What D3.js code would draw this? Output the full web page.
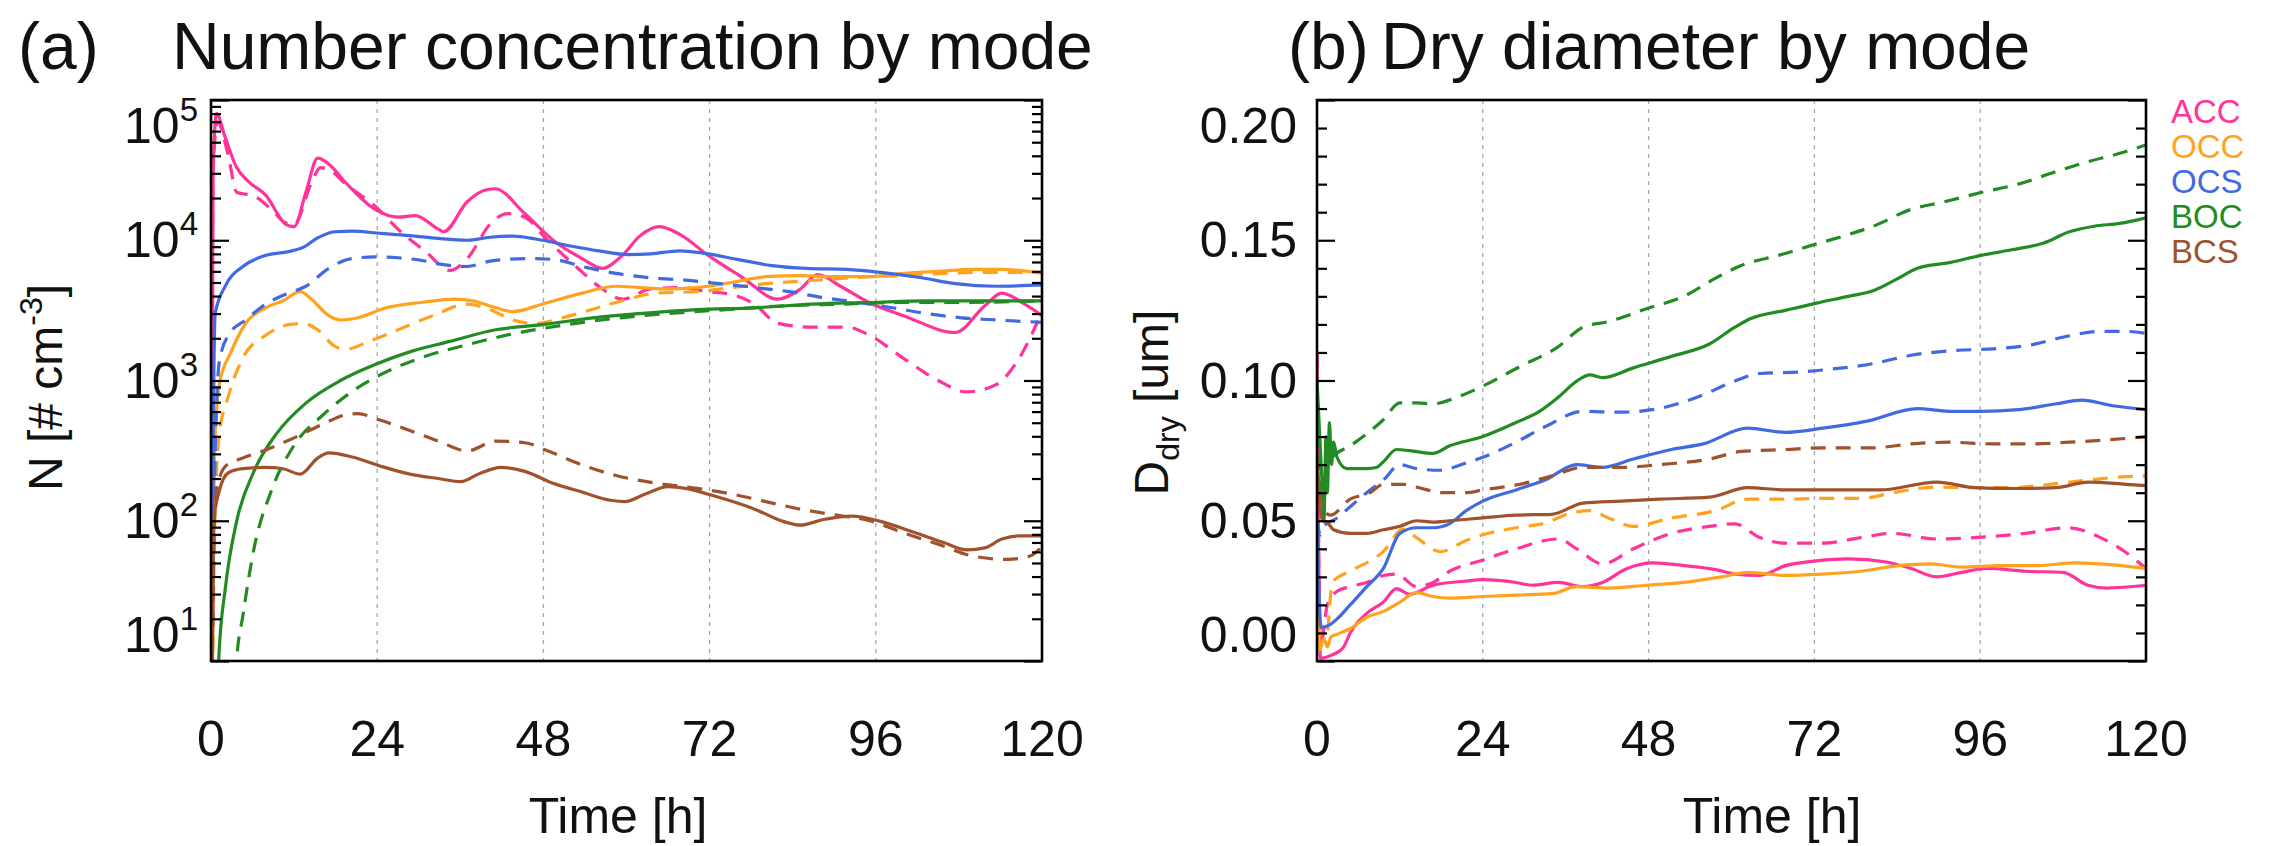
<!DOCTYPE html>
<html>
<head>
<meta charset="utf-8">
<script src="https://cdn.jsdelivr.net/npm/d3@7"></script>
<style>
  body { margin: 0; background: #fff; }
  text { font-family: "Liberation Sans", Arial, Helvetica, sans-serif; fill: #111; }
</style>
</head>
<body>
<svg id="chart" width="2270" height="846"></svg>
<script>
// modes, colours and tick values
var modes = ["ACC", "OCC", "OCS", "BOC", "BCS"];
var modeColors = ["#ff3399", "#ffa31f", "#4169e1", "#228b22", "#a0522d"];
var timeTicks = [0, 24, 48, 72, 96, 120];
var gridHours = [24, 48, 72, 96];
var nDecades = [1e1, 1e2, 1e3, 1e4, 1e5];
var dMajor = [0, 0.05, 0.10, 0.15, 0.20];

// (a) number concentration [# cm-3], pairs of [hour, value]
var accSolidN = [[0,1],[0.3,3e4],[0.8,8e4],[2,5.5e4],[3.7,3.3e4],[5.5,2.6e4],[7.9,2.1e4],[10.8,1.3e4],[12,1.25e4],[13.7,2.2e4],[15.4,3.85e4],[17,3.5e4],[19.5,2.56e4],[23.7,1.66e4],[27,1.46e4],[29.5,1.5e4],[32.8,1.2e4],[33.6,1.15e4],[37,1.88e4],[39.4,2.26e4],[41,2.33e4],[45.3,1.55e4],[49.4,1.0e4],[53.6,7.4e3],[56.5,6.3e3],[59.4,7.8e3],[61.9,1.07e4],[64.8,1.25e4],[67.7,1.1e4],[71.8,7.8e3],[76.8,5.4e3],[81.8,3.8e3],[85,4.45e3],[87.6,5.7e3],[90.9,4.7e3],[95,3.6e3],[100,2.9e3],[107.5,2.2e3],[111.7,3.4e3],[114.2,4.2e3],[117.5,3.5e3],[120,2.9e3]];
var accDashN = [[0,1],[0.3,3e4],[0.9,7e4],[2.5,4e4],[3.7,2.2e4],[6.2,2.07e4],[8.7,1.66e4],[10.8,1.33e4],[12,1.3e4],[14.5,2.56e4],[15.8,3.3e4],[17,3.2e4],[19.5,2.5e4],[23.7,1.75e4],[27,1.2e4],[31,8.3e3],[34.5,6.1e3],[37,7.4e3],[40.3,1.3e4],[42.8,1.55e4],[45.3,1.46e4],[48.6,1e4],[52.7,6.5e3],[56.5,4.5e3],[59.4,3.8e3],[63.5,4.5e3],[67.7,4.6e3],[71.8,4.3e3],[75.2,4.1e3],[78.5,3.5e3],[81.8,2.56e3],[86.8,2.4e3],[91.8,2.4e3],[95.1,2.1e3],[100,1.44e3],[105,1e3],[109.1,830],[113.3,930],[116.7,1.44e3],[120,3.1e3]];
var occSolidN = [[0,1],[0.5,300],[1.2,940],[2.9,1.6e3],[5,2.55e3],[7.9,3.3e3],[10.4,3.7e3],[12.9,4.3e3],[14.5,3.8e3],[17,2.9e3],[18.7,2.7e3],[21.2,2.8e3],[25.3,3.3e3],[30.3,3.6e3],[35.3,3.8e3],[37.8,3.7e3],[40.3,3.4e3],[43.6,3.1e3],[47.8,3.5e3],[53.6,4.2e3],[58.5,4.7e3],[61.9,4.6e3],[65.2,4.5e3],[70.2,4.6e3],[75.2,5e3],[80.1,5.5e3],[85.1,5.6e3],[90.1,5.5e3],[95.1,5.5e3],[100,5.8e3],[105,6e3],[110,6.2e3],[114.2,6.2e3],[120,5.8e3]];
var occDashN = [[0,1],[0.6,119],[1.2,417],[2.5,770],[4.6,1.45e3],[7.9,2.1e3],[11.2,2.5e3],[13.3,2.55e3],[15.4,2.3e3],[17.9,1.75e3],[19.5,1.67e3],[22.8,1.9e3],[27,2.3e3],[32,2.9e3],[37,3.5e3],[40.3,3.2e3],[43.6,2.7e3],[46.9,2.55e3],[51.9,2.9e3],[58.5,3.6e3],[64.4,4.2e3],[70.2,4.3e3],[75.2,4.6e3],[80.1,4.9e3],[85.1,5.1e3],[90.1,5.3e3],[95.1,5.5e3],[100,5.6e3],[105.8,5.8e3],[111.6,5.9e3],[120,5.9e3]];
var ocsSolidN = [[0,1],[0.3,300],[0.6,3e3],[2.1,4.75e3],[4.6,6.5e3],[7.9,7.8e3],[11.2,8.3e3],[13.3,8.9e3],[15.4,1.04e4],[17.9,1.15e4],[20.4,1.16e4],[24.5,1.12e4],[28.7,1.08e4],[32.8,1.03e4],[37,1e4],[40.3,1.05e4],[43.6,1.07e4],[46.9,1.02e4],[51.9,9.1e3],[56,8.4e3],[60.2,7.9e3],[63.5,8e3],[67.7,8.4e3],[71.8,8e3],[76,7.3e3],[81,6.6e3],[86,6.3e3],[91.8,6.2e3],[96.7,5.9e3],[102.6,5.4e3],[107.5,4.9e3],[113.4,4.7e3],[120,4.8e3]];
var ocsDashN = [[0,1],[0.4,100],[1.2,1.36e3],[2.5,2.1e3],[5,2.7e3],[7.9,3.5e3],[11.2,4.2e3],[13.7,4.7e3],[17,6.3e3],[20.3,7.4e3],[23.7,7.6e3],[27,7.5e3],[30.3,7.2e3],[33.6,6.7e3],[37,6.5e3],[40.3,7.1e3],[45.3,7.4e3],[49.4,7.3e3],[53.6,6.5e3],[58.5,5.8e3],[63.5,5.4e3],[68.5,5.2e3],[73.5,4.9e3],[78.5,4.6e3],[83.5,4.3e3],[88.4,3.9e3],[93.4,3.6e3],[98.4,3.3e3],[103.4,3e3],[108.4,2.8e3],[113.4,2.7e3],[120,2.6e3]];
var bocSolidN = [[0.5,1],[1.1,10],[2.1,34],[3.7,99],[6.2,225],[9.5,420],[13.7,690],[18.7,1e3],[23.7,1.3e3],[28.7,1.6e3],[34.5,1.9e3],[41.1,2.3e3],[47.8,2.5e3],[55.2,2.8e3],[61.9,3e3],[70.2,3.2e3],[78.5,3.3e3],[86.8,3.5e3],[95.1,3.6e3],[103.4,3.7e3],[111.6,3.7e3],[120,3.7e3]];
var bocDashN = [[3,1],[3.7,10],[4.6,21],[6.2,63],[8.7,163],[12,345],[16.2,570],[20.3,830],[24.5,1.1e3],[30.3,1.45e3],[37,1.8e3],[43.6,2.15e3],[50.2,2.45e3],[57.7,2.75e3],[66,3e3],[74.3,3.2e3],[82.6,3.4e3],[90.9,3.5e3],[99.2,3.6e3],[107.5,3.6e3],[120,3.7e3]];
var bcsSolidN = [[0,1],[0.4,100],[1.2,163],[2.5,220],[4.6,235],[7.9,240],[10.4,235],[12.9,215],[15.4,280],[17,305],[20.4,285],[24.5,245],[28.7,215],[32.8,200],[36.1,190],[38.6,215],[41.9,240],[45.3,225],[49.4,185],[53.6,160],[57.7,140],[59.8,137],[62.7,155],[66,175],[68.5,170],[72.7,150],[78.5,121],[82.6,99],[85.1,93],[88.4,102],[92.6,108],[96.7,99],[101.7,82],[105.8,70],[109.2,62],[111.7,64],[114.2,74],[116.7,78],[120,78]];
var bcsDashN = [[0,1],[0.5,100],[0.8,163],[2.1,245],[4.6,280],[7.9,320],[12,390],[16.2,490],[19.5,570],[21.2,580],[24.5,520],[28.7,440],[32.8,370],[37,315],[41.1,370],[45.3,360],[48.6,315],[53.6,250],[58.5,210],[64.4,185],[70.2,170],[75.2,155],[80.1,137],[85.1,121],[90.1,110],[95.1,100],[100,82],[105,68],[110,56],[115,53],[118.3,56],[120,66]];

// (b) dry diameter [um], pairs of [hour, value]
var accSolidD = [[0,0.11],[0.5,0.001],[2,0.002],[3.8,0.0048],[4.8,0.010],[7.2,0.017],[9.6,0.021],[11.5,0.0258],[13.4,0.0238],[16.8,0.027],[21.6,0.0285],[24,0.029],[28.8,0.028],[31.2,0.027],[34.9,0.028],[38.5,0.0265],[41.3,0.028],[44.9,0.033],[48.6,0.035],[53.1,0.034],[57.7,0.0326],[60.5,0.031],[64.1,0.0305],[67.8,0.034],[72.3,0.0357],[76.9,0.0364],[82.4,0.0353],[86,0.033],[89.7,0.030],[93.3,0.0316],[97,0.033],[102.5,0.032],[108,0.0316],[111.6,0.027],[114.3,0.026],[120,0.027]];
var accDashD = [[0,0.11],[0.5,0.005],[1.5,0.02],[3,0.025],[4.8,0.0265],[7.2,0.028],[9.6,0.0305],[11.5,0.031],[14.4,0.0265],[16.8,0.028],[19.2,0.032],[24,0.036],[28.8,0.040],[34.9,0.0435],[37.6,0.040],[41.3,0.0346],[45.8,0.040],[51.3,0.0455],[56.8,0.048],[60.5,0.0489],[64.1,0.044],[67.8,0.042],[73.2,0.042],[78.7,0.044],[83.3,0.0455],[89.7,0.0435],[95.2,0.044],[102.5,0.0455],[108.8,0.0475],[113.4,0.044],[117.1,0.0387],[120,0.033]];
var occSolidD = [[0,0.05],[0.4,0.004],[1,0.008],[1.5,0.005],[2,0.0085],[2.9,0.0095],[4.8,0.0115],[7.2,0.0156],[9.6,0.0177],[12,0.021],[14.4,0.0244],[16.8,0.023],[19.2,0.0224],[24,0.023],[28.8,0.0235],[34,0.024],[37.6,0.0265],[42.2,0.026],[47.7,0.027],[53.1,0.028],[58.6,0.030],[62.3,0.0316],[67.8,0.0305],[73.2,0.031],[78.7,0.032],[84.2,0.034],[88.8,0.0346],[93.3,0.0335],[98.8,0.034],[104.3,0.034],[109.8,0.035],[113.4,0.0346],[120,0.033]];
var occDashD = [[0,0.05],[0.5,0.01],[1.4,0.009],[2.2,0.028],[4.8,0.032],[9.6,0.039],[12.5,0.047],[14.4,0.044],[17.8,0.039],[21.6,0.043],[24,0.045],[28.8,0.0475],[33.6,0.0496],[35.8,0.052],[39.5,0.0536],[42.2,0.051],[45.8,0.048],[51.3,0.051],[57.7,0.0536],[62.3,0.0577],[67.8,0.0577],[73.2,0.058],[78.7,0.058],[84.2,0.0604],[89.7,0.062],[95.2,0.0618],[100.6,0.0618],[106.1,0.063],[111.6,0.0645],[116.2,0.0656],[120,0.066]];
var ocsSolidD = [[0,0.05],[0.6,0.012],[1.9,0.013],[2.9,0.015],[4.8,0.020],[7.2,0.0265],[9.6,0.033],[12,0.0455],[14.4,0.0475],[16.8,0.0475],[19.2,0.049],[21.6,0.0536],[24,0.057],[28.8,0.061],[33,0.0645],[37.6,0.070],[41.3,0.069],[45.8,0.072],[51.3,0.0754],[55.9,0.0774],[62.3,0.083],[67.8,0.0815],[73.2,0.083],[79.6,0.0855],[86.9,0.090],[91.5,0.089],[96.1,0.089],[101.5,0.0896],[107,0.0917],[110.7,0.093],[115.2,0.091],[120,0.0896]];
var ocsDashD = [[0,0.05],[0.5,0.045],[1,0.048],[2.9,0.051],[4.8,0.055],[7.2,0.060],[9.6,0.0645],[12,0.070],[14.4,0.0686],[17.8,0.068],[21.6,0.0706],[24,0.0726],[28.8,0.078],[33,0.0835],[38.5,0.089],[44,0.0887],[49.5,0.090],[55,0.094],[60.5,0.0998],[64.1,0.1025],[69.6,0.103],[74.2,0.104],[80.5,0.106],[86,0.109],[92.4,0.1107],[97.9,0.1113],[103.4,0.1127],[107.9,0.1154],[113.4,0.1175],[117.1,0.1175],[120,0.1168]];
var bocSolidD = [[0,0.10],[0.8,0.06],[1.0,0.05],[1.3,0.08],[1.5,0.06],[1.8,0.085],[2.1,0.07],[2.4,0.078],[2.9,0.0726],[4.3,0.0686],[7.2,0.0686],[8.6,0.069],[9.6,0.071],[11.5,0.0754],[13.4,0.075],[16.8,0.074],[19.2,0.0767],[24,0.080],[28.8,0.085],[32.2,0.089],[34.9,0.094],[37.6,0.0998],[39.5,0.102],[41.3,0.101],[45.8,0.1045],[51.3,0.1086],[56.8,0.113],[60.5,0.119],[62.7,0.122],[67.8,0.125],[72.3,0.1276],[76.9,0.130],[80.5,0.132],[84.2,0.1365],[86.9,0.140],[91.5,0.142],[96.1,0.1446],[100.6,0.1466],[105.2,0.149],[108.9,0.153],[112.5,0.155],[116.2,0.156],[120,0.158]];
var bocDashD = [[0,0.10],[0.8,0.06],[1.5,0.07],[2.2,0.0726],[4.8,0.0767],[9.6,0.086],[12,0.092],[14.4,0.092],[16.8,0.0917],[20.2,0.094],[24,0.098],[29.4,0.105],[34.9,0.112],[38.5,0.119],[42.2,0.121],[47.7,0.1256],[53.1,0.130],[57.7,0.1365],[61.4,0.141],[66.8,0.1446],[72.3,0.1487],[76.9,0.152],[80.5,0.155],[86,0.161],[90.6,0.1636],[96.1,0.167],[101.5,0.170],[107,0.1745],[111.6,0.178],[116.2,0.181],[120,0.184]];
var bcsSolidD = [[0,0.07],[0.8,0.05],[1.4,0.0496],[2.4,0.0468],[4.8,0.0455],[7.2,0.0455],[9.6,0.0468],[12,0.048],[14.4,0.050],[16.8,0.0495],[19.2,0.050],[24,0.051],[28.8,0.052],[34,0.0523],[38.5,0.0563],[44,0.057],[49.5,0.0577],[56.8,0.0584],[62.3,0.0618],[67.8,0.061],[75.1,0.061],[81.5,0.061],[89.7,0.0638],[95.2,0.0618],[100.6,0.0615],[107,0.0618],[111.6,0.0638],[117.1,0.063],[120,0.0625]];
var bcsDashD = [[0,0.07],[0.8,0.055],[1.9,0.052],[4.8,0.0577],[7.7,0.060],[9.6,0.063],[12.5,0.063],[14.4,0.062],[18.2,0.060],[21.6,0.060],[24,0.061],[29.4,0.063],[34,0.066],[38.5,0.069],[44,0.069],[49.5,0.070],[56.8,0.072],[61.4,0.0747],[67.8,0.0754],[73.2,0.076],[80.5,0.076],[86,0.0774],[91.5,0.078],[97.9,0.0774],[103.4,0.0774],[108.9,0.078],[114.3,0.0788],[120,0.080]];

var seriesA = [
    {mode: 0, dashed: false, data: accSolidN}, {mode: 0, dashed: true, data: accDashN},
    {mode: 1, dashed: false, data: occSolidN}, {mode: 1, dashed: true, data: occDashN},
    {mode: 2, dashed: false, data: ocsSolidN}, {mode: 2, dashed: true, data: ocsDashN},
    {mode: 3, dashed: false, data: bocSolidN}, {mode: 3, dashed: true, data: bocDashN},
    {mode: 4, dashed: false, data: bcsSolidN}, {mode: 4, dashed: true, data: bcsDashN}
];
var seriesB = [
    {mode: 0, dashed: false, data: accSolidD}, {mode: 0, dashed: true, data: accDashD},
    {mode: 1, dashed: false, data: occSolidD}, {mode: 1, dashed: true, data: occDashD},
    {mode: 2, dashed: false, data: ocsSolidD}, {mode: 2, dashed: true, data: ocsDashD},
    {mode: 3, dashed: false, data: bocSolidD}, {mode: 3, dashed: true, data: bocDashD},
    {mode: 4, dashed: false, data: bcsSolidD}, {mode: 4, dashed: true, data: bcsDashD}
];

var svg = d3.select("#chart");
svg.append("rect").attr("width", 2270).attr("height", 846).attr("fill", "#fff");

var panelA = {left: 211, right: 1042, top: 100, bottom: 661},
    panelB = {left: 1317, right: 2146, top: 100, bottom: 661};

var xA = d3.scaleLinear().domain([0, 120]).range([panelA.left, panelA.right]),
    yA = d3.scaleLog().domain([10, 1e5]).range([panelA.bottom, panelA.top]),
    xB = d3.scaleLinear().domain([0, 120]).range([panelB.left, panelB.right]),
    yB = d3.scaleLinear().domain([0, 0.2]).range([panelB.bottom, panelB.top]);

var defs = svg.append("defs");
[["clipA", panelA], ["clipB", panelB]].forEach(function(c){
    defs.append("clipPath").attr("id", c[0]).append("rect")
        .attr("x", c[1].left).attr("y", c[1].top)
        .attr("width", c[1].right - c[1].left).attr("height", c[1].bottom - c[1].top);
});

function drawPanel(p, x, y, series, clipId, minorTicks, majorTicks){
    var g = svg.append("g");

    // dashed vertical grid
    g.selectAll(".grid").data(gridHours).enter().append("line")
        .attr("x1", function(d){ return x(d); }).attr("x2", function(d){ return x(d); })
        .attr("y1", p.top).attr("y2", p.bottom)
        .attr("stroke", "#a8a8a8").attr("stroke-width", 1.3)
        .attr("stroke-dasharray", "4,5");

    var line = d3.line()
        .x(function(d){ return x(d[0]); })
        .y(function(d){ return y(d[1]); })
        .curve(d3.curveMonotoneX);

    series.forEach(function(s){
        g.append("path")
            .attr("d", line(s.data))
            .attr("fill", "none")
            .attr("stroke", modeColors[s.mode])
            .attr("stroke-width", 3.2)
            .attr("stroke-dasharray", s.dashed ? "15,10" : null)
            .attr("clip-path", "url(#" + clipId + ")");
    });

    // ticks on both sides pointing inward
    var tickSets = [[minorTicks, 10], [majorTicks, 18]];
    tickSets.forEach(function(t){
        g.append("g").attr("transform", "translate(" + p.left + ",0)")
            .call(d3.axisLeft(y).tickValues(t[0]).tickSize(-t[1]).tickFormat(""))
            .call(function(a){ a.select(".domain").remove(); a.selectAll("line").attr("stroke", "#000").attr("stroke-width", 2.2); });
        g.append("g").attr("transform", "translate(" + p.right + ",0)")
            .call(d3.axisRight(y).tickValues(t[0]).tickSize(-t[1]).tickFormat(""))
            .call(function(a){ a.select(".domain").remove(); a.selectAll("line").attr("stroke", "#000").attr("stroke-width", 2.2); });
    });

    g.append("rect")
        .attr("x", p.left).attr("y", p.top)
        .attr("width", p.right - p.left).attr("height", p.bottom - p.top)
        .attr("fill", "none").attr("stroke", "#000").attr("stroke-width", 2.6);

    // x tick labels
    g.selectAll(".xlab").data(timeTicks).enter().append("text")
        .attr("x", function(d){ return x(d); })
        .attr("y", 756)
        .attr("text-anchor", "middle")
        .attr("font-size", 50)
        .text(function(d){ return d; });

    return g;
}

// extreme labels sit a little inside the frame, as in the original
function labelShift(i, n){
    if(i === 0) return -26;
    if(i === n - 1) return 26;
    return 0;
}

var minorA = yA.ticks().filter(function(d){ return nDecades.indexOf(d) < 0; });
var gA = drawPanel(panelA, xA, yA, seriesA, "clipA", minorA, nDecades);

gA.selectAll(".ylab").data(nDecades).enter().append("text")
    .attr("x", panelA.left - 13)
    .attr("y", function(d, i){ return yA(d) + labelShift(i, nDecades.length) + 17; })
    .attr("text-anchor", "end")
    .attr("font-size", 50)
    .each(function(d){
        var t = d3.select(this);
        t.text("10");
        t.append("tspan").attr("dy", -22).attr("font-size", 33).text(Math.round(Math.log10(d)));
    });

var minorB = d3.range(0, 21).map(function(i){ return i / 100; })
    .filter(function(d){ return Math.abs(d * 20 - Math.round(d * 20)) > 1e-6; });
var gB = drawPanel(panelB, xB, yB, seriesB, "clipB", minorB, dMajor);

gB.selectAll(".ylab").data(dMajor).enter().append("text")
    .attr("x", panelB.left - 20)
    .attr("y", function(d, i){ return yB(d) + labelShift(i, dMajor.length) + 17; })
    .attr("text-anchor", "end")
    .attr("font-size", 50)
    .text(d3.format(".2f"));

// titles
svg.append("text").attr("x", 18).attr("y", 69).attr("font-size", 66).text("(a)");
svg.append("text").attr("x", 172).attr("y", 69).attr("font-size", 66).text("Number concentration by mode");
svg.append("text").attr("x", 1288).attr("y", 69).attr("font-size", 66).text("(b)");
svg.append("text").attr("x", 1381).attr("y", 69).attr("font-size", 66).text("Dry diameter by mode");

// axis titles
svg.append("text").attr("x", 618).attr("y", 833).attr("text-anchor", "middle").attr("font-size", 50).text("Time [h]");
svg.append("text").attr("x", 1772).attr("y", 833).attr("text-anchor", "middle").attr("font-size", 50).text("Time [h]");

var yTitleA = svg.append("text")
    .attr("transform", "translate(62," + ((panelA.top + panelA.bottom) / 2 + 7) + ") rotate(-90)")
    .attr("text-anchor", "middle").attr("font-size", 48);
yTitleA.append("tspan").text("N [# cm");
yTitleA.append("tspan").attr("dy", -20).attr("font-size", 32).text("-3");
yTitleA.append("tspan").attr("dy", 20).text("]");

var yTitleB = svg.append("text")
    .attr("transform", "translate(1168," + ((panelB.top + panelB.bottom) / 2 + 22) + ") rotate(-90)")
    .attr("text-anchor", "middle").attr("font-size", 48);
yTitleB.append("tspan").text("D");
yTitleB.append("tspan").attr("dy", 11).attr("font-size", 32).text("dry");
yTitleB.append("tspan").attr("dy", -11).text(" [um]");

// legend
svg.selectAll(".legend").data(modes).enter().append("text")
    .attr("x", 2171)
    .attr("y", function(d, i){ return 123 + i * 35; })
    .attr("font-size", 33)
    .style("fill", function(d, i){ return modeColors[i]; })
    .text(function(d){ return d; });
</script>
</body>
</html>
